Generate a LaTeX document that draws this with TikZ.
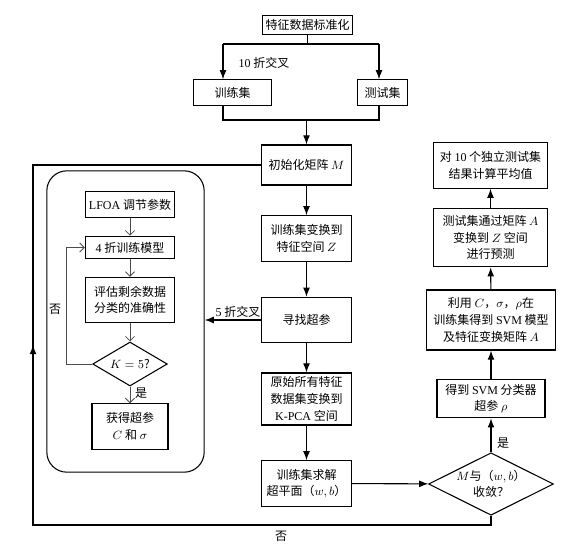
\documentclass[tikz,border=0pt]{standalone}
\usepackage{fontspec}
\setmainfont{Liberation Serif}
\newfontfamily\cjk{Noto Sans CJK SC}
\usetikzlibrary{shapes.geometric,arrows.meta}
\newcommand{\en}[1]{{\rmfamily #1}}
\tikzset{
	box/.style={draw,line width=0.8pt,align=center,inner sep=1pt},
	decide/.style={draw,diamond,line width=0.8pt,align=center,inner sep=0pt,aspect=2},
	flow/.style={line width=0.8pt,-{Latex[length=2.4mm,width=1.8mm]}},
	inner/.style={line width=0.6pt,draw=black!70,-{Straight Barb[length=1.2mm,width=2.4mm]}},
	lbl/.style={inner sep=1pt},
	every node/.style={font=\cjk\fontsize{9}{12.5}\selectfont}
}
\begin{document}
\begin{tikzpicture}[x=0.75pt,y=-0.75pt]
	\useasboundingbox (0,0) rectangle (580,552);
	% main column
	\node (std) [box,minimum width=68pt,minimum height=14pt] at (307.5,25) {特征数据标准化};
	\node (train) [box,minimum width=59pt,minimum height=19pt] at (232.5,92.5) {训练集};
	\node (test) [box,minimum width=38pt,minimum height=19pt] at (382.5,92.5) {测试集};
	\node (init) [box,minimum width=67pt,minimum height=30pt] at (306.5,165) {初始化矩阵 $M$};
	\node (trans) [box,minimum width=67pt,minimum height=34pt] at (306.5,238.5) {训练集变换到\\特征空间 $Z$};
	\node (search) [box,minimum width=67pt,minimum height=34pt] at (306.5,320) {寻找超参};
	\node (kpca) [box,minimum width=67pt,minimum height=39pt] at (306.5,399) {原始所有特征\\数据集变换到\\\en{K-PCA} 空间};
	\node (solve) [box,minimum width=67pt,minimum height=34pt] at (306.5,483.5) {训练集求解\\超平面（$w,b$）};
	% right column
	\node (conv) [decide,minimum width=92pt,minimum height=44pt] at (491,484) {$M$与（$w,b$）\\收敛？};
	\node (rho) [box,minimum width=81pt,minimum height=29pt] at (491,398.5) {得到 \en{SVM} 分类器\\超参 $\rho$};
	\node (model) [box,minimum width=97pt,minimum height=45pt] at (491,320) {利用 $C$，$\sigma$，$\rho$在\\训练集得到 \en{SVM} 模型\\及特征变换矩阵 $A$};
	\node (pred) [box,minimum width=85pt,minimum height=44pt] at (490.5,237.5) {测试集通过矩阵 $A$\\变换到 $Z$ 空间\\进行预测};
	\node (avg) [box,minimum width=85pt,minimum height=34pt] at (490.5,165.5) {对 \en{10} 个独立测试集\\结果计算平均值};
	% hyper parameter search
	\node (group) [draw,line width=0.8pt,rounded corners=15pt,minimum width=118pt,minimum height=226pt] at (125.5,321.5) {};
	\node (lfoa) [box,minimum width=67pt,minimum height=19pt] at (130,204.5) {\en{LFOA} 调节参数};
	\node (fold) [box,minimum width=67pt,minimum height=17pt] at (130,247.5) {\en{4} 折训练模型};
	\node (eval) [box,minimum width=67pt,minimum height=34pt] at (130,300) {评估剩余数据\\分类的准确性};
	\node (kchk) [decide,minimum width=56pt,minimum height=33pt] at (130,364) {$K=5$?};
	\node (getc) [box,minimum width=57pt,minimum height=34pt] at (130,426.5) {获得超参\\$C$ 和 $\sigma$};
	\coordinate (splitL) at (223,44);
	\coordinate (splitR) at (379,44);
	\coordinate (joinL) at (223,120);
	\coordinate (joinR) at (379,120);
	\coordinate (loopL) at (66,364);
	\coordinate (fbBot) at (33,525);
	\coordinate (fbMid) at (33,345);
	\coordinate (fbTop) at (33,165);
	% connectors
	\draw[line width=0.8pt] (std.south) -- (std.south |- splitL) (splitL) -- (splitR);
	\draw[flow] (splitL) -- (splitL |- train.north);
	\draw[flow] (splitR) -- (splitR |- test.north);
	\draw[line width=0.8pt] (splitL |- train.south) -- (joinL) -- (joinR) -- (splitR |- test.south);
	\draw[flow] (joinL -| init.north) -- (init.north);
	\draw[flow] (init) -- (trans);
	\draw[flow] (trans) -- (search);
	\draw[flow] (search) -- (kpca);
	\draw[flow] (kpca) -- (solve);
	\draw[flow] (solve) -- (conv);
	\draw[flow] (conv) -- (rho);
	\draw[flow] (rho) -- (model);
	\draw[flow] (model) -- (pred);
	\draw[flow] (pred) -- (avg);
	\draw[flow] (search.west) -- (search.west -| group.east);
	\draw[line width=0.8pt] (conv.south) |- (fbBot) -- (fbTop) -- (init.west);
	\draw[flow] (fbBot) -- (fbMid);
	\draw[inner] (lfoa) -- (fold);
	\draw[inner] (fold) -- (eval);
	\draw[inner] (eval) -- (kchk);
	\draw[inner] (kchk) -- (getc);
	\draw[inner] (kchk.west) -- (loopL) |- (fold.west);
	% labels
	\node [lbl] at (264,63) {\en{10} 折交叉};
	\node [lbl] at (238,312) {\en{5} 折交叉};
	\node [lbl] at (281,536) {否};
	\node [lbl] at (503,443) {是};
	\node [lbl] at (55,309) {否};
	\node [lbl] at (141,393) {是};
\end{tikzpicture}
\end{document}
